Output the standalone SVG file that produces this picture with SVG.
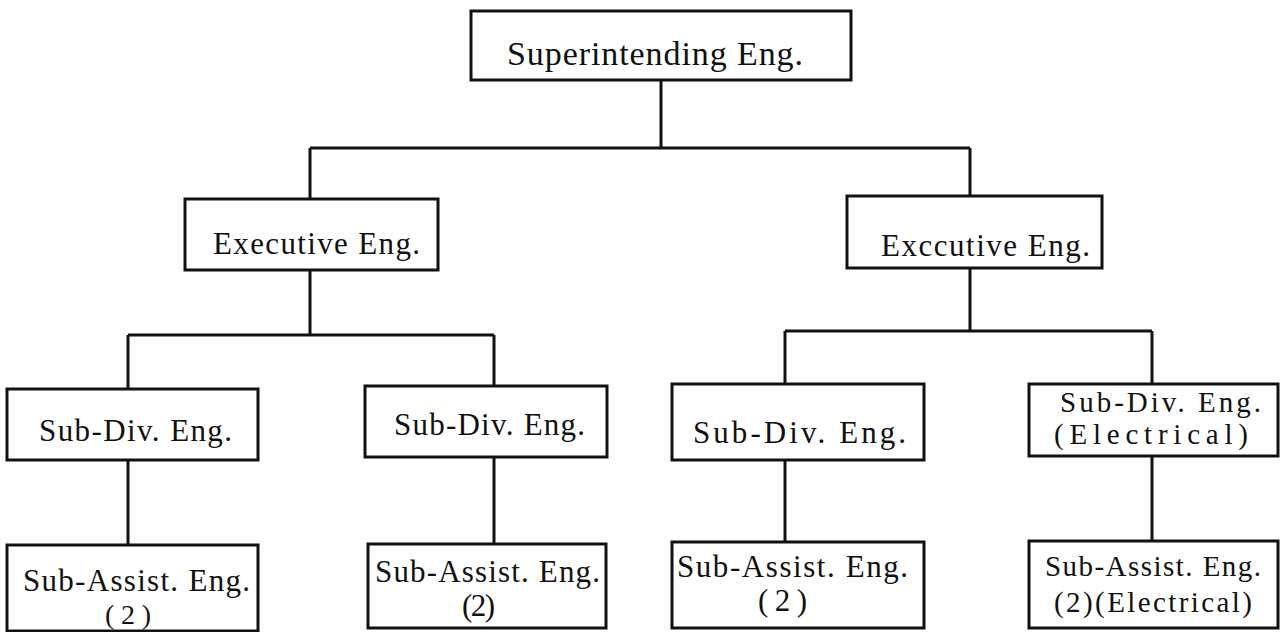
<svg xmlns="http://www.w3.org/2000/svg" width="1287" height="632" viewBox="0 0 1287 632">
<style>
.box{fill:#fff;stroke:#111;stroke-width:3}
.ln{stroke:#111;stroke-width:3;fill:none}
text{font-family:"Liberation Serif","Times New Roman",serif;font-size:31px;fill:#111}
.big{font-size:34px}
.sm{font-size:29px}
.xs{font-size:28px}
</style>
<rect x="0" y="0" width="1287" height="632" fill="#fff"/>
<g id="connectors">
<path class="ln" d="M661 80V148M310 148H970M310 148V199M970 148V196"/>
<path class="ln" d="M310 270V335M128 335H494M128 335V389M494 335V386"/>
<path class="ln" d="M970 268V331M785 331H1152M785 331V384M1152 331V384"/>
<path class="ln" d="M128 460V545M494 457V544M785 460V542M1152 456V541"/>
</g>
<g id="superintending">
<rect class="box" x="471" y="11" width="380" height="69"/>
<text class="big" x="507" y="65" textLength="296" lengthAdjust="spacing">Superintending Eng.</text>
</g>
<g id="exec-left">
<rect class="box" x="185" y="199" width="253" height="71"/>
<text x="213" y="254" textLength="207" lengthAdjust="spacing">Executive Eng.</text>
</g>
<g id="exec-right">
<rect class="box" x="847" y="196" width="255" height="72"/>
<text x="881" y="256" textLength="209" lengthAdjust="spacing">Exccutive Eng.</text>
</g>
<g id="subdiv-1">
<rect class="box" x="7" y="389" width="251" height="71"/>
<text x="39" y="441" textLength="193" lengthAdjust="spacing">Sub-Div. Eng.</text>
</g>
<g id="subdiv-2">
<rect class="box" x="365" y="386" width="242" height="71"/>
<text x="394" y="435" textLength="191" lengthAdjust="spacing">Sub-Div. Eng.</text>
</g>
<g id="subdiv-3">
<rect class="box" x="672" y="384" width="252" height="76"/>
<text x="693" y="443" textLength="213" lengthAdjust="spacing">Sub-Div. Eng.</text>
</g>
<g id="subdiv-4">
<rect class="box" x="1029" y="384" width="249" height="72"/>
<text class="sm" x="1060" y="412" textLength="201" lengthAdjust="spacing">Sub-Div. Eng.</text>
<text class="sm" x="1054" y="444" textLength="194" lengthAdjust="spacing">(Electrical)</text>
</g>
<g id="subassist-1">
<rect class="box" x="7" y="545" width="251" height="86"/>
<text x="23" y="591" textLength="227" lengthAdjust="spacing">Sub-Assist. Eng.</text>
<text class="xs" x="105" y="624" textLength="46" lengthAdjust="spacing">(2)</text>
</g>
<g id="subassist-2">
<rect class="box" x="368" y="544" width="238" height="84"/>
<text x="375" y="582" textLength="225" lengthAdjust="spacing">Sub-Assist. Eng.</text>
<text x="462" y="616" textLength="33" lengthAdjust="spacing">(2)</text>
</g>
<g id="subassist-3">
<rect class="box" x="672" y="542" width="252" height="86"/>
<text x="677" y="577" textLength="231" lengthAdjust="spacing">Sub-Assist. Eng.</text>
<text x="758" y="611" textLength="49" lengthAdjust="spacing">(2)</text>
</g>
<g id="subassist-4">
<rect class="box" x="1029" y="541" width="249" height="87"/>
<text class="sm" x="1045" y="576" textLength="216" lengthAdjust="spacing">Sub-Assist. Eng.</text>
<text class="sm" x="1054" y="612" textLength="198" lengthAdjust="spacing">(2)(Electrical)</text>
</g>
</svg>
